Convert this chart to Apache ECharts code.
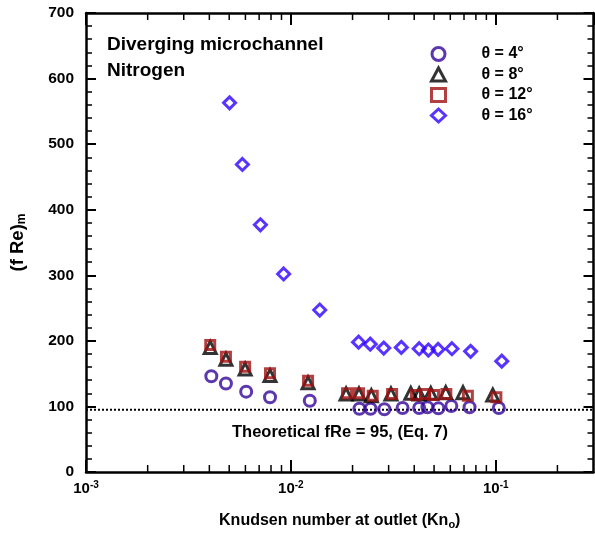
<!DOCTYPE html>
<html>
<head>
<meta charset="utf-8">
<script src="https://cdn.jsdelivr.net/npm/echarts@6/dist/echarts.min.js"></script>
<style>
  html, body { margin: 0; padding: 0; background: #ffffff; }
  #chart { width: 595px; height: 535px; }
</style>
</head>
<body>
<div id="chart"></div>
<script>
const FONT = '"Liberation Sans", Arial, Helvetica, sans-serif';

// Outlet Knudsen number and mean friction constant for each divergence angle
const kn4  = [0.00409, 0.00482, 0.00605, 0.00791, 0.01237, 0.0216, 0.0245, 0.0286, 0.0351, 0.0423, 0.0464, 0.0525, 0.0607, 0.0745, 0.1035];
const fre4 = [146, 135, 122.5, 114, 108.7, 96.5, 96.5, 95.6, 97.6, 97.6, 98.7, 97.1, 100.6, 98.7, 97.6];

const kn8  = [0.00404, 0.00482, 0.00598, 0.00791, 0.01213, 0.0186, 0.0215, 0.0247, 0.0308, 0.0385, 0.0423, 0.0482, 0.0570, 0.0692, 0.0967];
const fre8 = [190, 172, 157, 147, 136, 119, 119, 116.4, 119, 120, 119, 120, 121, 121, 117.4];

const kn12  = [0.00404, 0.00482, 0.00598, 0.00791, 0.01213, 0.0188, 0.0215, 0.0251, 0.0312, 0.0408, 0.0452, 0.0500, 0.0574, 0.0731, 0.1007];
const fre12 = [193.7, 175.9, 160.6, 150.5, 139.3, 120, 120, 116.4, 119, 117.4, 119, 117.4, 119, 116.4, 113.9];

const kn16  = [0.00502, 0.0058, 0.0071, 0.00922, 0.01383, 0.0214, 0.0244, 0.0284, 0.0346, 0.0423, 0.0469, 0.0523, 0.0611, 0.0754, 0.107];
const fre16 = [563, 469, 377, 302, 247, 198, 195, 189, 190, 188, 186, 187, 188, 184, 169];

// Theoretical value (Eq. 7) drawn across the whole Kn range
const theoryKn = [0.001, 0.3];
const theoryFRe = 95;

// Log-scale minor tick positions on the Kn axis
const minorKn = [0.002, 0.003, 0.004, 0.005, 0.006, 0.007, 0.008, 0.009,
                 0.02, 0.03, 0.04, 0.05, 0.06, 0.07, 0.08, 0.09, 0.2];

const seriesNames = ['θ = 4°', 'θ = 8°', 'θ = 12°', 'θ = 16°'];

const zip = (xs, ys) => xs.map((x, i) => [x, ys[i]]);

const chart = echarts.init(document.getElementById('chart'), null, { renderer: 'canvas' });

const axisLine = { show: true, onZero: false, lineStyle: { color: '#000', width: 2.5 } };

function decadeLabel(v) {
  const e = Math.log10(v);
  const r = Math.round(e);
  if (Math.abs(e - r) > 1e-6) return '';
  return '{b|10}{s|' + r + '}';
}

const subRich = {
  n: { fontFamily: FONT, fontSize: 16, fontWeight: 'bold', color: '#000', lineHeight: 18 },
  s: { fontFamily: FONT, fontSize: 11, fontWeight: 'bold', color: '#000', lineHeight: 18, verticalAlign: 'bottom', padding: [8, 0, 0, 0] }
};

const option = {
  backgroundColor: '#ffffff',
  animation: false,
  textStyle: { fontFamily: FONT },
  grid: { left: 85, right: 1.5, top: 13, bottom: 63, containLabel: false },
  legend: {
    data: seriesNames,
    orient: 'vertical',
    left: 425,
    top: 41,
    itemWidth: 14,
    itemHeight: 13,
    itemGap: 4.5,
    selectedMode: false,
    itemStyle: { borderWidth: 3 },
    formatter: n => '{g|}{t|' + n + '}',
    textStyle: {
      rich: {
        g: { width: 31 },
        t: { fontFamily: FONT, fontSize: 16, fontWeight: 'bold', color: '#000', lineHeight: 13 }
      }
    }
  },
  xAxis: [
    {
      type: 'log', logBase: 10, min: 0.001, max: 0.3,
      position: 'bottom',
      axisLine: axisLine,
      axisTick: { show: true, inside: true, length: 12, lineStyle: { color: '#000', width: 2 } },
      splitLine: { show: false },
      name: '{n|Knudsen number at outlet (Kn}{s|o}{n|)}',
      nameLocation: 'middle',
      nameGap: 40,
      nameTextStyle: { rich: subRich },
      axisLabel: {
        margin: 8,
        showMaxLabel: false,
        formatter: decadeLabel,
        rich: {
          b: { fontFamily: FONT, fontSize: 15, fontWeight: 'bold', color: '#000', lineHeight: 18 },
          s: { fontFamily: FONT, fontSize: 10, fontWeight: 'bold', color: '#000', lineHeight: 18, verticalAlign: 'top', padding: [0, 0, 12, 0] }
        }
      }
    },
    {
      type: 'log', logBase: 10, min: 0.001, max: 0.3,
      position: 'top',
      axisLine: axisLine,
      axisTick: { show: true, inside: true, length: 12, lineStyle: { color: '#000', width: 2 } },
      axisLabel: { show: false },
      splitLine: { show: false }
    }
  ],
  yAxis: [
    {
      type: 'value', min: 0, max: 700, interval: 100,
      position: 'left',
      axisLine: axisLine,
      axisTick: { show: true, inside: true, length: 10, lineStyle: { color: '#000', width: 2 } },
      minorTick: { show: true, splitNumber: 5, length: 6, lineStyle: { color: '#000', width: 1.5 } },
      splitLine: { show: false },
      axisLabel: { margin: 12, fontFamily: FONT, fontSize: 15.5, fontWeight: 'bold', color: '#000' },
      name: '{n|(f Re)}{s|m}',
      nameLocation: 'middle',
      nameGap: 58,
      nameTextStyle: {
        rich: {
          n: { fontFamily: FONT, fontSize: 18.5, fontWeight: 'bold', color: '#000', lineHeight: 20 },
          s: { fontFamily: FONT, fontSize: 12, fontWeight: 'bold', color: '#000', lineHeight: 20, verticalAlign: 'bottom', padding: [8, 0, 0, 0] }
        }
      }
    },
    {
      type: 'value', min: 0, max: 700, interval: 100,
      position: 'right',
      axisLine: axisLine,
      axisTick: { show: true, inside: true, length: 10, lineStyle: { color: '#000', width: 2 } },
      minorTick: { show: true, splitNumber: 5, length: 6, lineStyle: { color: '#000', width: 1.5 } },
      splitLine: { show: false },
      axisLabel: { show: false }
    }
  ],
  graphic: [
    {
      type: 'text', left: 107, top: 35,
      style: { text: 'Diverging microchannel', font: 'bold 19px ' + FONT, fill: '#000' }
    },
    {
      type: 'text', left: 107, top: 61,
      style: { text: 'Nitrogen', font: 'bold 19px ' + FONT, fill: '#000' }
    },
    {
      type: 'text', left: 232, top: 424,
      style: { text: 'Theoretical fRe = 95, (Eq. 7)', font: 'bold 16.5px ' + FONT, fill: '#000' }
    }
  ],
  series: [
    {
      name: 'minor-ticks', type: 'custom', silent: true,
      xAxisIndex: 0, yAxisIndex: 0,
      data: minorKn.map(v => [v, 0]),
      renderItem: (params, api) => {
        const x = api.coord([api.value(0), 0])[0];
        const cs = params.coordSys;
        const st = { stroke: '#000', lineWidth: 1.5 };
        return {
          type: 'group',
          children: [
            { type: 'line', shape: { x1: x, y1: cs.y + cs.height, x2: x, y2: cs.y + cs.height - 7 }, style: st },
            { type: 'line', shape: { x1: x, y1: cs.y, x2: x, y2: cs.y + 7 }, style: st }
          ]
        };
      },
      z: 3
    },
    {
      name: 'theory', type: 'line', silent: true,
      data: theoryKn.map(k => [k, theoryFRe]),
      symbol: 'none',
      lineStyle: { color: '#000', width: 2, type: [2, 2] },
      z: 2
    },
    {
      name: seriesNames[0], type: 'scatter', data: zip(kn4, fre4),
      symbol: 'circle', symbolSize: 11,
      itemStyle: { color: 'rgba(255,255,255,0)', borderColor: '#35059a', borderWidth: 3 },
      z: 4
    },
    {
      name: seriesNames[1], type: 'scatter', data: zip(kn8, fre8),
      symbol: 'triangle', symbolSize: 12,
      itemStyle: { color: 'rgba(255,255,255,0)', borderColor: '#000000', borderWidth: 3 },
      z: 5
    },
    {
      name: seriesNames[2], type: 'scatter', data: zip(kn12, fre12),
      symbol: 'rect', symbolSize: 9,
      itemStyle: { color: 'rgba(255,255,255,0)', borderColor: '#a01010', borderWidth: 3 },
      z: 6
    },
    {
      name: seriesNames[3], type: 'scatter', data: zip(kn16, fre16),
      symbol: 'diamond', symbolSize: 12,
      itemStyle: { color: 'rgba(255,255,255,0)', borderColor: '#2f00ff', borderWidth: 3 },
      z: 7
    }
  ]
};

chart.setOption(option);
</script>
</body>
</html>
